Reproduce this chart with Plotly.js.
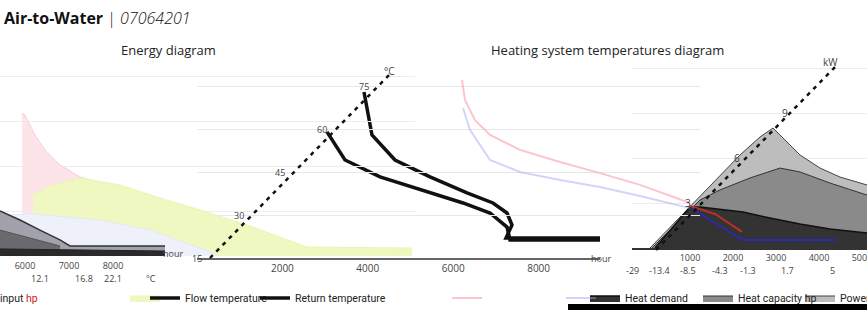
<!DOCTYPE html>
<html><head><meta charset="utf-8">
<script src="https://cdn.plot.ly/plotly-3.0.1.min.js"></script>
<style>html,body{margin:0;padding:0;background:#fff}#chart{width:867px;height:310px}</style>
</head><body><div id="chart"></div>
<script>
// ---------- data ----------
// Heating system temperatures diagram (hours / °C)
const tempTicks = [2000, 4000, 6000, 8000];
const tempYTicks = [15, 30, 45, 60, 75];
const flowHours = [3911, 4005, 4098, 4637, 5457, 6323, 6932, 7260, 7377, 7237, 9438];
const flowTemp = [72.9, 66.0, 57.9, 49.2, 43.3, 37.7, 34.2, 30.7, 26.5, 22.0, 22.0];
const returnHours = [3044, 3466, 4286, 5457, 6230, 6862, 7260, 7330, 9438];
const returnTemp = [59.0, 49.2, 43.3, 37.7, 34.2, 30.7, 25.8, 21.3, 21.3];
const pinkHours = [6206, 6276, 6511, 6862, 7564, 8501, 9438, 10375, 11546];
const pinkTemp = [77.1, 70.1, 63.1, 57.9, 52.7, 48.5, 44.6, 40.5, 34.2];
const lavHours = [6230, 6393, 6862, 7564, 8501, 9438, 10375, 11546];
const lavTemp = [67.3, 59.7, 49.2, 45.0, 42.2, 39.8, 36.6, 32.4];

// Energy diagram, right part (hours / kW)
const energyTicks = [1000, 2000, 3000, 4000, 5000];
const outdoorTickHours = [-326, 302, 953, 1698, 2349, 3256, 4302];
const outdoorTickText = ['-29', '-13.4', '-8.5', '-4.3', '-1.3', '1.7', '5'];
const kwTicks = [3, 6, 9];
const powerHours = [70, 767, 1233, 1698, 2163, 2628, 2930, 3209, 3558, 4023, 4488, 5116];
const powerKW = [0, 2.07, 3.47, 4.8, 6.2, 7.4, 8.0, 7.2, 6.2, 5.33, 4.73, 4.2];
const capHours = [116, 767, 1233, 1698, 2395, 3093, 3558, 4256, 5116];
const capKW = [0, 1.87, 3.2, 3.87, 4.67, 5.33, 5.07, 4.33, 3.53];
const demHours = [186, 1000, 1233, 2233, 2860, 3558, 4256, 5116];
const demKW = [0, 2.73, 2.73, 2.4, 2.0, 1.6, 1.27, 1.0];
const redHours = [1000, 1581, 2209];
const redKW = [2.8, 2.27, 1.07];
const blueHours = [1047, 1651, 2233, 4419];
const blueKW = [2.6, 1.53, 0.53, 0.53];

// Energy diagram, left part (hours / kW)
const leftTicks = [6000, 7000, 8000];
const leftTempTickHours = [6341, 7341, 8000, 8864];
const leftTempTickText = ['12.1', '16.8', '22.1', '°C'];
const pinkAreaHours = [5932, 6000, 6227, 6455, 6795, 7250, 7932, 8841, 9977, 11114, 12250, 12477];
const pinkAreaKW = [9.53, 9.4, 8.07, 7.07, 6.07, 5.27, 4.67, 3.87, 2.87, 1.73, 0.4, 0];
const yellowHours = [6182, 6568, 7250, 8159, 9068, 9977, 11114, 12250, 12409, 14795];
const yellowKW = [4.07, 4.67, 5.2, 4.73, 3.87, 3.07, 2.0, 0.8, 0.6, 0.53];
const lavAreaHours = [5432, 6182, 7705, 8841, 9977, 10364];
const lavAreaKW = [2.73, 2.8, 2.4, 1.73, 0.53, 0.07];
const wedgeHours = [5432, 5886, 6341, 6795, 7023, 9182];
const wedgeKW = [3.0, 2.4, 1.73, 1.07, 0.67, 0.67];
const innerHours = [5432, 6114, 6795];
const innerKW = [1.73, 1.2, 0.67];
const stripHours = [5432, 7023, 9182];
const stripKW = [0.47, 0.4, 0.33];

// ---------- layout helpers ----------
const W = 867, H = 310;
const PX = x => x / W;
const PY = y => (H - y) / H;
const FONT = 'Open Sans, Roboto, sans-serif';
const LFONT = 'Roboto, Open Sans, sans-serif';
const tickFont = {family: FONT, size: 10, color: '#444'};
const smallFont = {family: FONT, size: 9, color: '#444'};

const traces = [
  // left energy part
  {x: pinkAreaHours, y: pinkAreaKW, xaxis: 'x5', yaxis: 'y5', type: 'scatter', mode: 'lines',
   fill: 'tozeroy', fillcolor: '#fde4e8', line: {color: '#f9cdd3', width: 1}, showlegend: false, hoverinfo: 'skip'},
  {x: yellowHours, y: yellowKW, xaxis: 'x5', yaxis: 'y5', type: 'scatter', mode: 'lines', name: ' ',
   fill: 'tozeroy', fillcolor: '#f0f8c2', line: {color: '#eaf5b0', width: 1}, legend: 'legend2', hoverinfo: 'skip'},
  {x: lavAreaHours, y: lavAreaKW, xaxis: 'x5', yaxis: 'y5', type: 'scatter', mode: 'lines',
   fill: 'tozeroy', fillcolor: '#eef0fa', line: {color: '#e6e8f6', width: 1}, showlegend: false, hoverinfo: 'skip'},
  {x: wedgeHours, y: wedgeKW, xaxis: 'x5', yaxis: 'y5', type: 'scatter', mode: 'lines',
   name: 'input <span style="color:#d0201a">hp</span>',
   fill: 'tozeroy', fillcolor: '#a2a2ad', line: {color: '#333', width: 1.5}, legend: 'legend', hoverinfo: 'skip'},
  {x: innerHours, y: innerKW, xaxis: 'x5', yaxis: 'y5', type: 'scatter', mode: 'lines',
   fill: 'tozeroy', fillcolor: '#6a6a6e', line: {color: '#555', width: 1}, showlegend: false, hoverinfo: 'skip'},
  {x: stripHours, y: stripKW, xaxis: 'x5', yaxis: 'y5', type: 'scatter', mode: 'lines',
   fill: 'tozeroy', fillcolor: '#2a2a2a', line: {color: '#222', width: 1}, showlegend: false, hoverinfo: 'skip'},

  // temperature diagram
  {x: flowHours, y: flowTemp, xaxis: 'x', yaxis: 'y', type: 'scatter', mode: 'lines', name: 'Flow temperature',
   line: {color: '#111', width: 3.5}, legend: 'legend3', hoverinfo: 'skip'},
  {x: returnHours, y: returnTemp, xaxis: 'x', yaxis: 'y', type: 'scatter', mode: 'lines', name: 'Return temperature',
   line: {color: '#111', width: 3.5}, legend: 'legend4', hoverinfo: 'skip'},

  // energy right part
  {x: powerHours, y: powerKW, xaxis: 'x2', yaxis: 'y2', type: 'scatter', mode: 'lines', name: 'Power input hp',
   fill: 'tozeroy', fillcolor: '#bdbdbd', line: {color: '#444', width: 1}, legend: 'legend9', hoverinfo: 'skip'},
  {x: capHours, y: capKW, xaxis: 'x2', yaxis: 'y2', type: 'scatter', mode: 'lines', name: 'Heat capacity hp',
   fill: 'tozeroy', fillcolor: '#8a8a8a', line: {color: '#333', width: 1}, legend: 'legend8', hoverinfo: 'skip'},
  {x: demHours, y: demKW, xaxis: 'x2', yaxis: 'y2', type: 'scatter', mode: 'lines', name: 'Heat demand',
   fill: 'tozeroy', fillcolor: '#333333', line: {color: '#111', width: 1.5}, legend: 'legend7', hoverinfo: 'skip'},
  {x: redHours, y: redKW, xaxis: 'x2', yaxis: 'y2', type: 'scatter', mode: 'lines',
   line: {color: '#b8302c', width: 2}, showlegend: false, hoverinfo: 'skip'},
  {x: blueHours, y: blueKW, xaxis: 'x2', yaxis: 'y2', type: 'scatter', mode: 'lines',
   line: {color: '#2a2ab0', width: 2}, showlegend: false, hoverinfo: 'skip'},

  // light flow / return curves
  {x: pinkHours, y: pinkTemp, xaxis: 'x4', yaxis: 'y', type: 'scatter', mode: 'lines', name: ' ',
   line: {color: 'rgba(250,150,160,0.55)', width: 2}, legend: 'legend5', hoverinfo: 'skip'},
  {x: lavHours, y: lavTemp, xaxis: 'x4', yaxis: 'y', type: 'scatter', mode: 'lines', name: ' ',
   line: {color: 'rgba(160,160,240,0.45)', width: 2}, legend: 'legend6', hoverinfo: 'skip'}
];

function leg(xpx) {
  return {x: xpx / W, y: PY(298), xanchor: 'left', yanchor: 'middle', orientation: 'h',
    bgcolor: 'rgba(0,0,0,0)', borderwidth: 0, font: {family: LFONT, size: 10.5, color: '#222'}};
}

function note(text, xref, x, yref, y, font, xanchor) {
  return {text: text, xref: xref, x: x, yref: yref, y: y, showarrow: false,
          xanchor: xanchor || 'center', yanchor: 'middle', font: font || tickFont};
}

const annotations = [
  note('Energy diagram', 'paper', PX(168), 'paper', PY(50), {family: FONT, size: 13, color: '#222'}),
  note('Heating system temperatures diagram', 'paper', PX(607), 'paper', PY(50), {family: FONT, size: 13, color: '#222'}),
  note('hour', 'paper', PX(589), 'paper', PY(258), smallFont, 'left'),
  note('hour', 'paper', PX(161), 'paper', PY(253), smallFont, 'left'),
  note('°C', 'paper', PX(389), 'y', 80.3),
  note('kW', 'paper', PX(830), 'y2', 12.4)
];
tempYTicks.forEach(v => annotations.push(note(String(v), 'paper', PX(197 + 2.78 * (v - 15)), 'y', v, smallFont)));
kwTicks.forEach(v => annotations.push(note(String(v), 'paper', PX(688 + (v - 3) * 16.2), 'y2', v)));
outdoorTickHours.forEach((h, i) => annotations.push(note(outdoorTickText[i], 'x2', h, 'paper', PY(270), smallFont)));
leftTempTickHours.forEach((h, i) => annotations.push(note(leftTempTickText[i], 'x5', h, 'paper', PY(278), smallFont)));

const layout = {
  width: W, height: H,
  margin: {l: 0, r: 0, t: 0, b: 0, pad: 0, autoexpand: false},
  paper_bgcolor: '#fff', plot_bgcolor: 'rgba(0,0,0,0)',
  font: {family: FONT},
  title: {text: '<b>Air-to-Water</b> <span style="font-weight:300">| <i>07064201</i></span>',
          x: PX(4), xanchor: 'left', xref: 'paper', y: PY(18), yanchor: 'middle', yref: 'paper',
          font: {family: FONT, size: 16, color: '#111'}},
  showlegend: true,
  legend: leg(-40), legend2: leg(125), legend3: leg(145), legend4: leg(255),
  legend5: leg(447), legend6: leg(561), legend7: leg(585), legend8: leg(698), legend9: leg(800),

  xaxis: {domain: [PX(197), PX(600)], range: [0, 9438], anchor: 'y', tickvals: tempTicks,
          showline: true, linecolor: '#666', linewidth: 1.5, ticks: '', showgrid: false, zeroline: false,
          tickfont: tickFont, automargin: false},
  yaxis: {domain: [PY(258), PY(70)], range: [15, 80.58], anchor: 'x', showticklabels: false,
          tick0: 15, dtick: 15, gridcolor: '#e8e8e8', showline: false, zeroline: false, ticks: ''},
  xaxis4: {domain: [PX(197), PX(700)], range: [0, 11780], anchor: 'y', visible: false},

  xaxis2: {domain: [PX(632), 1], range: [-349, 5116], anchor: 'y2', tickvals: energyTicks,
           showline: true, linecolor: '#333', linewidth: 2, ticks: '', showgrid: false, zeroline: false,
           tickfont: smallFont, automargin: false, ticklabeloverflow: 'allow'},
  yaxis2: {domain: [PY(248), PY(50)], range: [0, 13.2], anchor: 'x2', showticklabels: false,
           dtick: 3, gridcolor: '#ececec', zeroline: false, showline: false, ticks: ''},

  xaxis5: {domain: [0, PX(415)], range: [5432, 14864], anchor: 'y5', tickvals: leftTicks,
           showline: false, ticks: '', showgrid: false, zeroline: false, tickfont: smallFont,
           automargin: false, ticklabelstandoff: 3},
  yaxis5: {domain: [PY(256), PY(70)], range: [0, 12.4], anchor: 'x5', showticklabels: false,
           dtick: 3, gridcolor: '#ededed', zeroline: false, showline: false, ticks: ''},

  shapes: [
    {type: 'line', xref: 'paper', yref: 'paper', x0: PX(210), y0: PY(258), x1: PX(392), y1: PY(72),
     line: {color: '#111', width: 2.5, dash: '4px,5px'}},
    {type: 'line', xref: 'paper', yref: 'paper', x0: PX(656), y0: PY(250), x1: PX(836), y1: PY(66),
     line: {color: '#111', width: 2.5, dash: '4px,5px'}},
    {type: 'rect', xref: 'paper', yref: 'paper', x0: PX(568), y0: 0, x1: 1, y1: PY(304),
     fillcolor: '#000', line: {width: 0}}
  ],
  annotations: annotations
};

Plotly.newPlot('chart', traces, layout, {staticPlot: true, displayModeBar: false});
</script>
</body></html>
